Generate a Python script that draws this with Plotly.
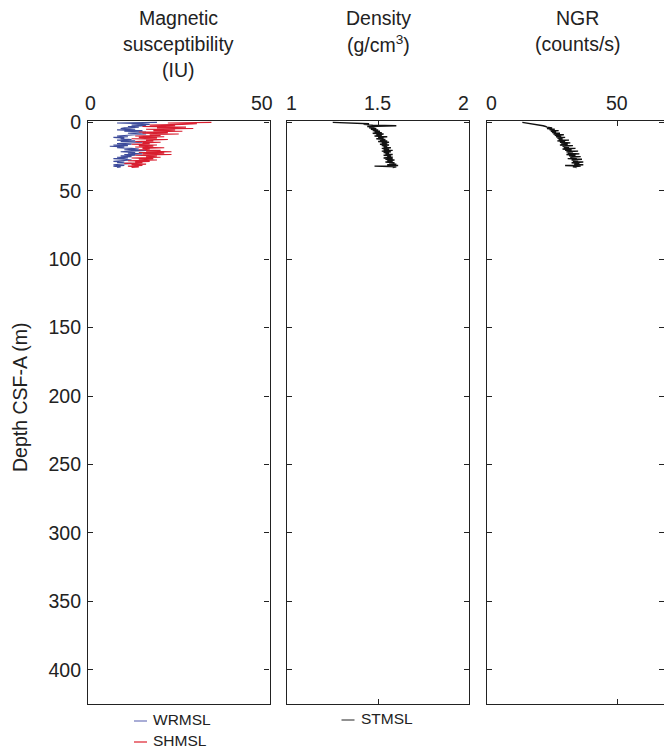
import plotly.graph_objects as go

# Depth below seafloor (m) for the core logger samples
depth = [0.0, 0.5, 1.0, 1.5, 2.0, 2.5, 3.0, 3.5, 4.0, 4.5, 5.0, 5.5, 6.0, 6.5,
         7.0, 7.5, 8.0, 8.5, 9.0, 9.5, 10.0, 10.5, 11.0, 11.5, 12.0, 12.5,
         13.0, 13.5, 14.0, 14.5, 15.0, 15.5, 16.0, 16.5, 17.0, 17.5, 18.0,
         18.5, 19.0, 19.5, 20.0, 20.5, 21.0, 21.5, 22.0, 22.5, 23.0, 23.5,
         24.0, 24.5, 25.0, 25.5, 26.0, 26.5, 27.0, 27.5, 28.0, 28.5, 29.0,
         29.5, 30.0, 30.5, 31.0, 31.5, 32.0, 32.5, 33.0]

# Magnetic susceptibility (IU), whole-round and section-half loggers
wrmsl = [19, 8, 15, 17,
         12, 16, 11, 14, 10,
         9, 13, 8, 15, 10, 16,
         14, 11, 16, 12, 10, 8,
         11, 7, 10, 9, 12, 8,
         13, 9, 15, 10, 8, 12,
         7, 11, 6, 10, 8, 12,
         14, 10, 16, 12, 9, 13,
         11, 15, 10, 13, 9, 12,
         8, 11, 7, 10, 12, 9,
         7, 10, 8, 12, 9, 7,
         10, 7, 9, 8]
shmsl = [34, 22, 30, 26,
         17, 24, 15, 27, 19,
         29, 16, 24, 18, 26, 14,
         22, 15, 25, 17, 20, 13,
         21, 14, 19, 12, 22, 16,
         18, 13, 20, 15, 17, 12,
         19, 14, 18, 13, 21, 15,
         17, 14, 20, 16, 23, 14,
         21, 15, 23, 13, 19, 16,
         20, 12, 18, 14, 19, 11,
         17, 13, 15, 10, 16, 12,
         15, 11, 14, 12]

# Bulk density (g/cm3), special task logger
density = [1.25, 1.38, 1.45, 1.42, 1.47, 1.60, 1.44, 1.48, 1.45, 1.49, 1.46,
           1.50, 1.47, 1.51, 1.48, 1.52, 1.47, 1.53, 1.49, 1.52, 1.48, 1.55,
           1.50, 1.53, 1.49, 1.54, 1.51, 1.55, 1.50, 1.56, 1.52, 1.55, 1.51,
           1.56, 1.52, 1.55, 1.53, 1.57, 1.52, 1.56, 1.53, 1.58, 1.52, 1.57,
           1.53, 1.56, 1.54, 1.58, 1.53, 1.57, 1.55, 1.58, 1.53, 1.58, 1.54,
           1.59, 1.55, 1.58, 1.54, 1.59, 1.56, 1.60, 1.55, 1.61, 1.48, 1.60,
           1.58]

# Natural gamma radiation (counts/s)
ngr = [13.5, 15.5, 17.5, 19.0, 20.5, 21.5, 22.5, 23.0, 25.0, 23.0, 26.0,
       24.0, 27.5, 24.5, 26.5, 25.0, 28.0, 25.5, 29.5, 26.0, 28.5, 26.5,
       30.0, 27.0, 29.0, 27.5, 31.5, 27.0, 30.0, 28.0, 32.0, 28.5, 31.0,
       28.0, 33.0, 29.0, 31.5, 29.5, 34.0, 29.0, 32.5, 30.0, 35.0, 30.5,
       33.0, 31.0, 35.5, 30.5, 34.0, 31.5, 36.0, 32.0, 34.5, 31.0, 36.5,
       32.5, 35.0, 33.0, 37.0, 32.5, 35.5, 33.5, 37.0, 30.0, 36.0, 33.0,
       34.5]

depth_ticks = [0, 50, 100, 150, 200, 250, 300, 350, 400]

W, H = 664, 748
FONT = "Liberation Sans, Arial, Helvetica, sans-serif"
INK = "#222222"
BLUE = "#3d4b9b"
RED = "#d81e2f"


def px_x(p):
    return p / W


def px_y(p):
    return 1 - p / H


fig = go.Figure()
fig.add_trace(go.Scatter(x=wrmsl, y=depth, mode="lines", xaxis="x", yaxis="y",
                         line=dict(color=BLUE, width=1.1), name="WRMSL"))
fig.add_trace(go.Scatter(x=shmsl, y=depth, mode="lines", xaxis="x", yaxis="y",
                         line=dict(color=RED, width=1.1), name="SHMSL"))
fig.add_trace(go.Scatter(x=density, y=depth, mode="lines", xaxis="x2", yaxis="y2",
                         line=dict(color="#111111", width=1.4), name="STMSL"))
fig.add_trace(go.Scatter(x=ngr, y=depth, mode="lines", xaxis="x3", yaxis="y3",
                         line=dict(color="#111111", width=1.4), name="NGR"))

ydom = [px_y(704), px_y(121)]
yrange = [425, -1]

axis_common = dict(showline=True, linecolor=INK, linewidth=1.2, mirror="ticks",
                   ticks="inside", ticklen=5, tickcolor=INK, tickwidth=1,
                   showgrid=False, zeroline=False, automargin=False,
                   tickfont=dict(family=FONT, size=19.5, color=INK))

# Each panel: domain, value range, tick values/labels and the sideways nudge
# that keeps the end labels inside the panel frame
panels = [
    dict(dom=[px_x(88), px_x(269.5)], rng=[0, 50],
         tv=[0, 50], tt=["0", "50"], nudge=[2, -7.5]),
    dict(dom=[px_x(287.3), px_x(469)], rng=[1, 2],
         tv=[1, 1.5, 2], tt=["1", "1.5", "2"], nudge=[4.5, -1, -6]),
    dict(dom=[px_x(487.3), 1.0], rng=[0, (664 - 487.3) / 2.594],
         tv=[0, 50], tt=["0", "50"], nudge=[4.5, 0]),
]

layout = dict(width=W, height=H,
              margin=dict(l=0, r=0, t=0, b=0, pad=0, autoexpand=False),
              paper_bgcolor="white", plot_bgcolor="white", showlegend=False)

ann = []
for i, p in enumerate(panels, start=1):
    sfx = "" if i == 1 else str(i)
    layout["xaxis" + sfx] = dict(axis_common, domain=p["dom"], range=p["rng"],
                                 side="top", tickvals=p["tv"], showticklabels=False,
                                 anchor="y" + sfx)
    layout["yaxis" + sfx] = dict(axis_common, domain=ydom, range=yrange,
                                 tickvals=depth_ticks, anchor="x" + sfx,
                                 showticklabels=(i == 1), ticklabelstandoff=2)
    for v, t, dx in zip(p["tv"], p["tt"], p["nudge"]):
        ann.append(dict(text=t, x=v, xref="x" + sfx, y=px_y(103), yref="paper",
                        xanchor="center", yanchor="middle", xshift=dx,
                        showarrow=False, font=dict(family=FONT, size=19.5, color=INK)))

fig.update_layout(**layout)

# Column headings
titles = [
    (178.7, ["Magnetic", "susceptibility", "(IU)"]),
    (378.0, ["Density", "(g/cm<sup>3</sup>)"]),
    (577.5, ["NGR", "(counts/s)"]),
]
for cx, lines in titles:
    for k, t in enumerate(lines):
        ann.append(dict(text=t, x=px_x(cx), y=px_y(18 + 26 * k), xref="paper",
                        yref="paper", xanchor="center", yanchor="middle",
                        showarrow=False, font=dict(family=FONT, size=19.5, color=INK)))

ann.append(dict(text="Depth CSF-A (m)", x=px_x(20), y=px_y(397), xref="paper",
                yref="paper", xanchor="center", yanchor="middle", textangle=-90,
                showarrow=False, font=dict(family=FONT, size=19.5, color=INK)))

# Logger keys below the panels
keys = [
    (134, 719, "#7b80c0", "WRMSL"),
    (134, 740, "#e0303d", "SHMSL"),
    (341.5, 718, "#555555", "STMSL"),
]
shapes = []
for x0, yc, col, lab in keys:
    shapes.append(dict(type="line", xref="paper", yref="paper",
                       x0=px_x(x0), x1=px_x(x0 + 13), y0=px_y(yc + 2), y1=px_y(yc + 2),
                       line=dict(color=col, width=1.3)))
    ann.append(dict(text=lab, x=px_x(x0 + 17), y=px_y(yc), xref="paper", yref="paper",
                    xanchor="left", yanchor="middle", showarrow=False,
                    font=dict(family=FONT, size=15.5, color=INK)))

fig.update_layout(annotations=ann, shapes=shapes)
fig.write_html("out.html")
